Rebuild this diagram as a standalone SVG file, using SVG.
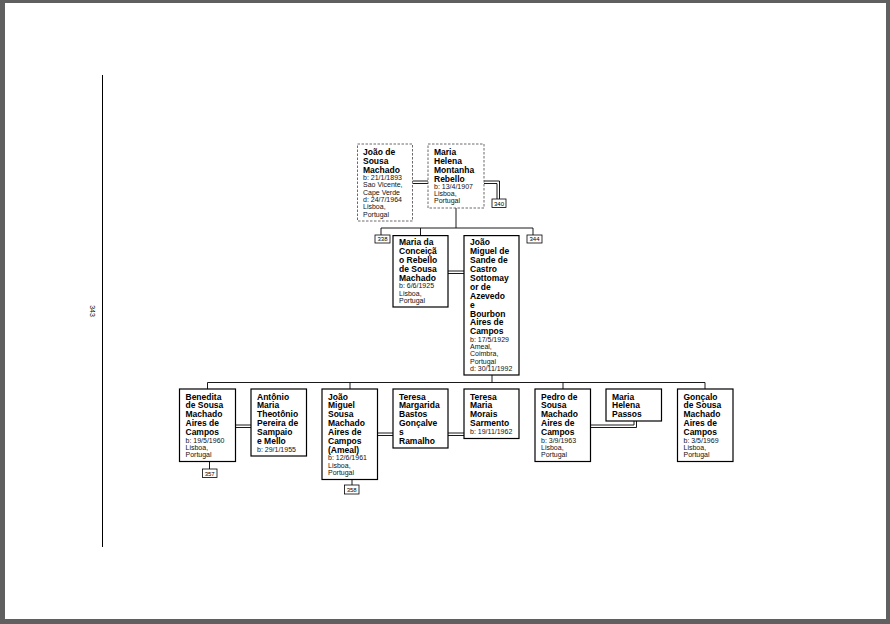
<svg xmlns="http://www.w3.org/2000/svg" width="890" height="624" viewBox="0 0 890 624">
<style>
.box{fill:#fff;stroke:#000;stroke-width:1.2}
.dbox{fill:#fff;stroke:#444;stroke-width:0.8;stroke-dasharray:2.5,1.5}
.ref{fill:#fff;stroke:#000;stroke-width:0.8}
.ln{stroke:#000;stroke-width:0.9;fill:none}
.n{font-family:"Liberation Sans",Arial,sans-serif;font-weight:bold;font-size:8.5px;fill:#000}
.d{font-family:"Liberation Sans",Arial,sans-serif;font-size:7px;fill:#111}
.r{font-family:"Liberation Sans",Arial,sans-serif;font-size:6px;text-anchor:middle;fill:#000}
</style>
<rect x="0" y="0" width="890" height="624" fill="#606060"/>
<rect x="5" y="3" width="881" height="616" fill="#fff"/>
<line x1="102.5" y1="75" x2="102.5" y2="547" stroke="#000" stroke-width="1"/>
<text class="d" x="90" y="311" text-anchor="middle" transform="rotate(90 90 311)">343</text>

<g id="connectors">
<path class="ln" d="M412.5,181H428M412.5,183.5H428"/>
<path class="ln" d="M484,181H499.5V199M484,183.5H497V199"/>
<path class="ln" d="M456,208V228M381,228H533M381,228V235M420.5,228V235.6M533,228V235"/>
<path class="ln" d="M448,271H464M448,273.5H464"/>
<path class="ln" d="M492,375V382.5M207.5,382.5H705M207.5,382.5V389M350,382.5V389M563,382.5V389M705,382.5V389"/>
<path class="ln" d="M235.5,425H251M235.5,427.5H251"/>
<path class="ln" d="M377.5,433H393M377.5,435.5H393"/>
<path class="ln" d="M448,433H464M448,435.5H464"/>
<path class="ln" d="M590.5,425H634V421M590.5,427.5H636.5V421"/>
<path class="ln" d="M209.5,461.5V469M352,479.5V485"/>
</g>

<g id="joao-sousa-machado">
<rect class="dbox" x="357.5" y="144" width="55" height="77"/>
<text class="n" x="363" y="154.5">João de</text>
<text class="n" x="363" y="163.6">Sousa</text>
<text class="n" x="363" y="172.7">Machado</text>
<text class="d" x="363" y="180">b: 21/1/1893</text>
<text class="d" x="363" y="187.3">Sao Vicente,</text>
<text class="d" x="363" y="194.6">Cape Verde</text>
<text class="d" x="363" y="201.9">d: 24/7/1964</text>
<text class="d" x="363" y="209.2">Lisboa,</text>
<text class="d" x="363" y="216.5">Portugal</text>
</g>

<g id="maria-helena-montanha">
<rect class="dbox" x="428" y="144" width="56" height="64"/>
<text class="n" x="434" y="154.5">Maria</text>
<text class="n" x="434" y="163.6">Helena</text>
<text class="n" x="434" y="172.7">Montanha</text>
<text class="n" x="434" y="181.5">Rebello</text>
<text class="d" x="434" y="188.8">b: 13/4/1907</text>
<text class="d" x="434" y="196.1">Lisboa,</text>
<text class="d" x="434" y="203.4">Portugal</text>
</g>

<g id="ref-340"><rect class="ref" x="492" y="199" width="14" height="8.5"/><text class="r" x="499" y="205.5">340</text></g>
<g id="ref-338"><rect class="ref" x="375" y="235" width="15" height="8"/><text class="r" x="382.5" y="241.3">338</text></g>
<g id="ref-344"><rect class="ref" x="527" y="235" width="15" height="8"/><text class="r" x="534.5" y="241.3">344</text></g>

<g id="maria-conceicao">
<rect class="box" x="393" y="235.6" width="55" height="71.4"/>
<text class="n" x="399" y="245.3">Maria da</text>
<text class="n" x="399" y="254.2">Conceiçã</text>
<text class="n" x="399" y="263.1">o Rebello</text>
<text class="n" x="399" y="272">de Sousa</text>
<text class="n" x="399" y="280.9">Machado</text>
<text class="d" x="399" y="288.4">b: 6/6/1925</text>
<text class="d" x="399" y="295.7">Lisboa,</text>
<text class="d" x="399" y="303">Portugal</text>
</g>

<g id="joao-sande">
<rect class="box" x="464" y="235.6" width="55" height="139.4"/>
<text class="n" x="470" y="245.3">João</text>
<text class="n" x="470" y="254.2">Miguel de</text>
<text class="n" x="470" y="263.1">Sande de</text>
<text class="n" x="470" y="272">Castro</text>
<text class="n" x="470" y="280.9">Sottomay</text>
<text class="n" x="470" y="289.8">or de</text>
<text class="n" x="470" y="298.7">Azevedo</text>
<text class="n" x="470" y="307.6">e</text>
<text class="n" x="470" y="316.5">Bourbon</text>
<text class="n" x="470" y="325.4">Aires de</text>
<text class="n" x="470" y="334.3">Campos</text>
<text class="d" x="470" y="341.7">b: 17/5/1929</text>
<text class="d" x="470" y="349">Ameal,</text>
<text class="d" x="470" y="356.3">Coimbra,</text>
<text class="d" x="470" y="363.6">Portugal</text>
<text class="d" x="470" y="370.9">d: 30/11/1992</text>
</g>

<g id="benedita">
<rect class="box" x="179.5" y="389" width="56" height="72.5"/>
<text class="n" x="185.5" y="399.5">Benedita</text>
<text class="n" x="185.5" y="408.4">de Sousa</text>
<text class="n" x="185.5" y="417.3">Machado</text>
<text class="n" x="185.5" y="426.2">Aires de</text>
<text class="n" x="185.5" y="435.1">Campos</text>
<text class="d" x="185.5" y="442.6">b: 19/5/1960</text>
<text class="d" x="185.5" y="449.9">Lisboa,</text>
<text class="d" x="185.5" y="457.2">Portugal</text>
</g>

<g id="antonio">
<rect class="box" x="251" y="389" width="55.5" height="67"/>
<text class="n" x="257" y="399.5">Antônio</text>
<text class="n" x="257" y="408.4">Maria</text>
<text class="n" x="257" y="417.3">Theotônio</text>
<text class="n" x="257" y="426.2">Pereira de</text>
<text class="n" x="257" y="435.1">Sampaio</text>
<text class="n" x="257" y="444">e Mello</text>
<text class="d" x="257" y="451.5">b: 29/1/1955</text>
</g>

<g id="joao-miguel-sousa">
<rect class="box" x="322" y="389" width="55.5" height="90.5"/>
<text class="n" x="328" y="399.5">João</text>
<text class="n" x="328" y="408.4">Miguel</text>
<text class="n" x="328" y="417.3">Sousa</text>
<text class="n" x="328" y="426.2">Machado</text>
<text class="n" x="328" y="435.1">Aires de</text>
<text class="n" x="328" y="444">Campos</text>
<text class="n" x="328" y="452.9">(Ameal)</text>
<text class="d" x="328" y="460.4">b: 12/6/1961</text>
<text class="d" x="328" y="467.7">Lisboa,</text>
<text class="d" x="328" y="475">Portugal</text>
</g>

<g id="teresa-margarida">
<rect class="box" x="393" y="389" width="55" height="59"/>
<text class="n" x="399" y="399.5">Teresa</text>
<text class="n" x="399" y="408.4">Margarida</text>
<text class="n" x="399" y="417.3">Bastos</text>
<text class="n" x="399" y="426.2">Gonçalve</text>
<text class="n" x="399" y="435.1">s</text>
<text class="n" x="399" y="444">Ramalho</text>
</g>

<g id="teresa-maria">
<rect class="box" x="464" y="389" width="55" height="49.5"/>
<text class="n" x="470" y="399.5">Teresa</text>
<text class="n" x="470" y="408.4">Maria</text>
<text class="n" x="470" y="417.3">Morais</text>
<text class="n" x="470" y="426.2">Sarmento</text>
<text class="d" x="470" y="433.7">b: 19/11/1962</text>
</g>

<g id="pedro">
<rect class="box" x="535" y="389" width="55.5" height="72.5"/>
<text class="n" x="541" y="399.5">Pedro de</text>
<text class="n" x="541" y="408.4">Sousa</text>
<text class="n" x="541" y="417.3">Machado</text>
<text class="n" x="541" y="426.2">Aires de</text>
<text class="n" x="541" y="435.1">Campos</text>
<text class="d" x="541" y="442.6">b: 3/9/1963</text>
<text class="d" x="541" y="449.9">Lisboa,</text>
<text class="d" x="541" y="457.2">Portugal</text>
</g>

<g id="maria-helena-passos">
<rect class="box" x="606" y="389" width="55.5" height="32"/>
<text class="n" x="612" y="399.5">Maria</text>
<text class="n" x="612" y="408.4">Helena</text>
<text class="n" x="612" y="417.3">Passos</text>
</g>

<g id="goncalo">
<rect class="box" x="677.5" y="389" width="55.5" height="72.5"/>
<text class="n" x="683.5" y="399.5">Gonçalo</text>
<text class="n" x="683.5" y="408.4">de Sousa</text>
<text class="n" x="683.5" y="417.3">Machado</text>
<text class="n" x="683.5" y="426.2">Aires de</text>
<text class="n" x="683.5" y="435.1">Campos</text>
<text class="d" x="683.5" y="442.6">b: 3/5/1969</text>
<text class="d" x="683.5" y="449.9">Lisboa,</text>
<text class="d" x="683.5" y="457.2">Portugal</text>
</g>

<g id="ref-357"><rect class="ref" x="202.5" y="469" width="14.5" height="8.5"/><text class="r" x="209.7" y="475.5">357</text></g>
<g id="ref-358"><rect class="ref" x="344.5" y="485" width="14.5" height="9" stroke-width="1.3"/><text class="r" x="351.7" y="491.7">358</text></g>
</svg>
